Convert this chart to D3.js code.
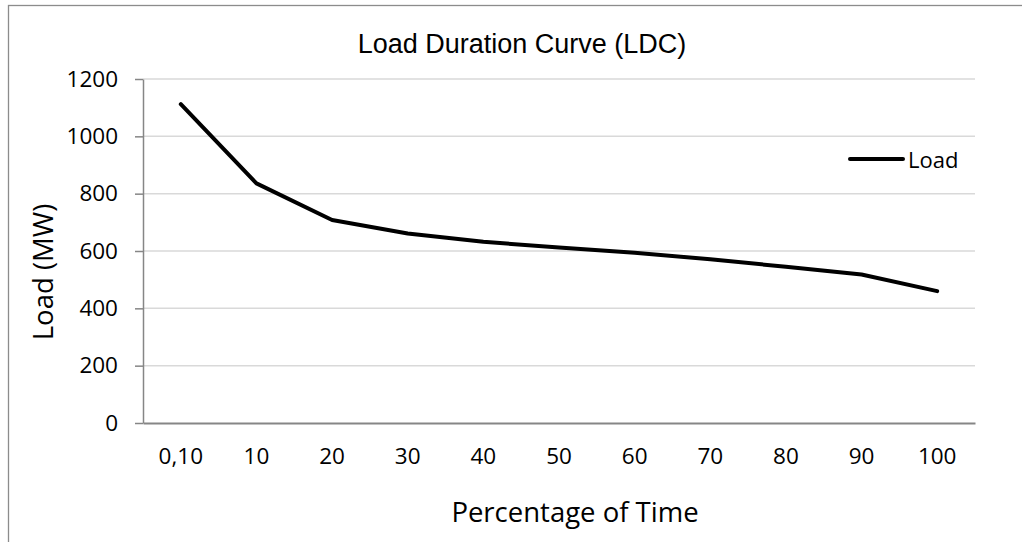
<!DOCTYPE html>
<html>
<head>
<meta charset="utf-8">
<script src="https://cdn.jsdelivr.net/npm/d3@7"></script>
<style>
  html, body { margin: 0; padding: 0; background: #fff; }
  svg { display: block; }
</style>
</head>
<body>
<svg id="chart" width="1022" height="542"></svg>
<script>
const categories = ["0,10", "10", "20", "30", "40", "50", "60", "70", "80", "90", "100"];
const loadValues = [1112, 836, 708, 661, 632, 612, 594, 571, 545, 518, 460];
const yTicks = [0, 200, 400, 600, 800, 1000, 1200];
const seriesName = "Load";
const titleText = "Load Duration Curve (LDC)";
const xTitle = "Percentage of Time";
const yTitle = "Load (MW)";

const svg = d3.select("#chart");
const plot = { left: 143, right: 975, top: 79, bottom: 423 };
const bodyFont = "'Open Sans', sans-serif";

// outer frame (clipped at right/bottom)
svg.append("rect")
  .attr("x", 8.5).attr("y", 5.5)
  .attr("width", 1100).attr("height", 700)
  .attr("fill", "none").attr("stroke", "#8c8c8c").attr("stroke-width", 1.3);

const x = d3.scaleBand().domain(categories).range([plot.left, plot.right]);
const y = d3.scaleLinear().domain([0, 1200]).range([plot.bottom, plot.top]);

// gridlines
svg.append("g").selectAll("line")
  .data(yTicks.filter(d => d > 0))
  .join("line")
  .attr("x1", plot.left).attr("x2", plot.right)
  .attr("y1", d => y(d)).attr("y2", d => y(d))
  .attr("stroke", "#d9d9d9").attr("stroke-width", 1.5);

// y axis
const yAxis = svg.append("g")
  .attr("transform", `translate(${plot.left},0)`)
  .call(d3.axisLeft(y).tickValues(yTicks).tickFormat(d3.format("d"))
    .tickSize(8).tickPadding(17).tickSizeOuter(0));
yAxis.select(".domain").attr("stroke", "#868686").attr("stroke-width", 1.5);
yAxis.selectAll(".tick line").attr("stroke", "#868686").attr("stroke-width", 1.5);
yAxis.selectAll(".tick text")
  .attr("font-family", bodyFont).attr("font-size", 22.5).attr("fill", "#000");

// x axis
const xAxis = svg.append("g")
  .attr("transform", `translate(0,${plot.bottom})`)
  .call(d3.axisBottom(x).tickSize(0).tickPadding(25).tickSizeOuter(0));
xAxis.select(".domain").attr("stroke", "#868686").attr("stroke-width", 2);
xAxis.selectAll(".tick text")
  .attr("font-family", bodyFont).attr("font-size", 22.5).attr("fill", "#000");

// line
const line = d3.line()
  .x((d, i) => x(categories[i]) + x.bandwidth() / 2)
  .y(d => y(d));
svg.append("path")
  .datum(loadValues)
  .attr("d", line)
  .attr("fill", "none")
  .attr("stroke", "#000")
  .attr("stroke-width", 4)
  .attr("stroke-linejoin", "round")
  .attr("stroke-linecap", "round");

// title
svg.append("text")
  .attr("x", 522).attr("y", 53)
  .attr("text-anchor", "middle")
  .attr("font-family", "'Liberation Sans', Arial, sans-serif")
  .attr("font-size", 27)
  .attr("fill", "#000")
  .text(titleText);

// x title
svg.append("text")
  .attr("x", 575).attr("y", 522)
  .attr("text-anchor", "middle")
  .attr("font-family", bodyFont)
  .attr("font-size", 27.5)
  .attr("fill", "#000")
  .text(xTitle);

// y title
svg.append("text")
  .attr("transform", "translate(53,272) rotate(-90)")
  .attr("text-anchor", "middle")
  .attr("font-family", bodyFont)
  .attr("font-size", 27.5)
  .attr("fill", "#000")
  .text(yTitle);

// legend
const lg = svg.append("g");
lg.append("line")
  .attr("x1", 850).attr("x2", 903)
  .attr("y1", 159).attr("y2", 159)
  .attr("stroke", "#000").attr("stroke-width", 4).attr("stroke-linecap", "round");
lg.append("text")
  .attr("x", 908).attr("y", 159)
  .attr("dominant-baseline", "central")
  .attr("font-family", bodyFont)
  .attr("font-size", 22)
  .attr("fill", "#000")
  .text(seriesName);
</script>
</body>
</html>
